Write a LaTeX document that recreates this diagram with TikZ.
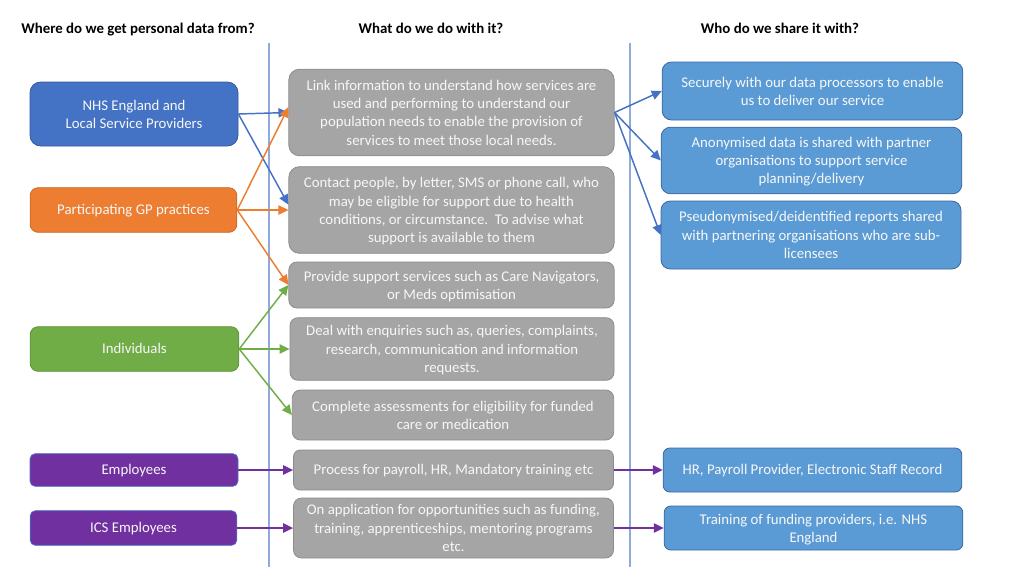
\documentclass[tikz,border=0pt]{standalone}
\usepackage{fontspec}
\setmainfont{Carlito}
\usetikzlibrary{arrows.meta}
\definecolor{nhsblue}{HTML}{4472C4}
\definecolor{gporange}{HTML}{ED7D31}
\definecolor{indgreen}{HTML}{70AD47}
\definecolor{emppurple}{HTML}{7030A0}
\definecolor{usegrey}{HTML}{A5A5A5}
\definecolor{shareblue}{HTML}{5B9BD5}
\definecolor{divline}{HTML}{8FAADC}
\tikzset{
    box/.style={draw, rounded corners=6pt, inner sep=0pt, align=center, text=white!97!black, line width=0.6pt,
        font=\fontsize{11.1}{13.7}\selectfont, execute at begin node=\rule{0pt}{10pt}, execute at end node=\rule[-3pt]{0pt}{3pt}},
    lines/.style={text depth=0pt},
    head/.style={inner sep=0pt, anchor=base, font=\fontsize{11.15}{13}\selectfont\bfseries},
    usebox/.style={box, fill=usegrey, draw=usegrey!85!black},
    sharebox/.style={box, fill=shareblue, draw=nhsblue!70!black!70!shareblue},
    link/.style={line width=1.1pt, -{Triangle[length=7.5pt,width=7pt]}},
}
\begin{document}
\begin{tikzpicture}[x=0.75pt, y=-0.75pt]
    \useasboundingbox (0,0) rectangle (1024,576);
    \node[head] (h1) at (138,33) {Where do we get personal data from?};
    \node[head] (h2) at (431,33) {What do we do with it?};
    \node[head] (h3) at (780,33) {Who do we share it with?};
    \coordinate (d1a) at (269,43);
    \coordinate (d1b) at (269,567);
    \coordinate (d2a) at (630,43);
    \coordinate (d2b) at (630,567);
    \path (d1a) edge[divline, line width=0.8pt] (d1b);
    \path (d2a) edge[divline, line width=0.8pt] (d2b);
    \node[box, lines, fill=nhsblue, draw=nhsblue!80!black, minimum width=156pt, minimum height=48pt, rounded corners=8pt] (nhs) at (134,114) {NHS England and\\Local Service Providers};
    \node[box, fill=gporange, draw=gporange!85!black, minimum width=155pt, minimum height=33.5pt] (gp) at (133.5,210) {Participating GP practices};
    \node[box, fill=indgreen, draw=indgreen!85!black, minimum width=156.5pt, minimum height=33.5pt] (ind) at (134.5,349) {Individuals};
    \node[box, fill=emppurple, draw=nhsblue, minimum width=156pt, minimum height=24.5pt, rounded corners=4pt] (emp) at (134,470) {Employees};
    \node[box, fill=emppurple, draw=nhsblue, minimum width=155pt, minimum height=26pt, rounded corners=4pt] (ics) at (133.5,528) {ICS Employees};
    \node[usebox, lines, minimum width=244pt, minimum height=65pt, rounded corners=8pt] (link) at (451.5,112.5) {Link information to understand how services are\\used and performing to understand our\\population needs to enable the provision of\\services to meet those local needs.};
    \node[usebox, lines, minimum width=244pt, minimum height=65pt, rounded corners=8pt] (contact) at (451.5,210) {Contact people, by letter, SMS or phone call, who\\may be eligible for support due to health\\conditions, or circumstance.\ \ To advise what\\support is available to them};
    \node[usebox, lines, minimum width=244pt, minimum height=34.5pt] (support) at (451.5,285) {Provide support services such as Care Navigators,\\or Meds optimisation};
    \node[usebox, lines, minimum width=243pt, minimum height=47pt] (deal) at (452,349) {Deal with enquiries such as, queries, complaints,\\research, communication and information\\requests.};
    \node[usebox, lines, minimum width=241pt, minimum height=37.5pt] (assess) at (453,415) {Complete assessments for eligibility for funded\\care or medication};
    \node[usebox, minimum width=240pt, minimum height=30pt, rounded corners=5pt] (payroll) at (453.5,470) {Process for payroll, HR, Mandatory training etc};
    \node[usebox, lines, minimum width=240pt, minimum height=45pt] (apply) at (453.5,528) {On application for opportunities such as funding,\\training, apprenticeships, mentoring programs\\etc.};
    \node[sharebox, lines, minimum width=225.5pt, minimum height=43.5pt, rounded corners=7pt] (proc) at (812.5,91) {Securely with our data processors to enable\\us to deliver our service};
    \node[sharebox, lines, minimum width=225.5pt, minimum height=50pt, rounded corners=7pt] (anon) at (811.5,160.5) {Anonymised data is shared with partner\\organisations to support service\\planning/delivery};
    \node[sharebox, lines, minimum width=225pt, minimum height=51pt, rounded corners=7pt] (pseudo) at (811,235) {Pseudonymised/deidentified reports shared\\with partnering organisations who are sub-\\licensees};
    \node[sharebox, minimum width=224pt, minimum height=33pt, rounded corners=5pt] (hr) at (812.5,470) {HR, Payroll Provider, Electronic Staff Record};
    \node[sharebox, lines, minimum width=224pt, minimum height=33pt, rounded corners=5pt] (fund) at (813.5,528) {Training of funding providers, i.e. NHS\\England};
    \path (nhs.east) edge[link, nhsblue] (link.west);
    \path (nhs.east) edge[link, nhsblue] ([yshift=4pt]contact.west);
    \path (gp.east) edge[link, gporange] ([yshift=4pt]link.west);
    \path (gp.east) edge[link, gporange] (contact.west);
    \path (gp.east) edge[link, gporange] (support.west);
    \path (ind.east) edge[link, indgreen] (support.west);
    \path (ind.east) edge[link, indgreen] (deal.west);
    \path (ind.east) edge[link, indgreen] (assess.west);
    \path (emp.east) edge[link, emppurple] (payroll.west);
    \path (ics.east) edge[link, emppurple] (apply.west);
    \path (link.east) edge[link, nhsblue] (proc.west);
    \path (link.east) edge[link, nhsblue] (anon.west);
    \path (link.east) edge[link, nhsblue] (pseudo.west);
    \path (payroll.east) edge[link, emppurple] (hr.west);
    \path (apply.east) edge[link, emppurple] (fund.west);
\end{tikzpicture}
\end{document}
